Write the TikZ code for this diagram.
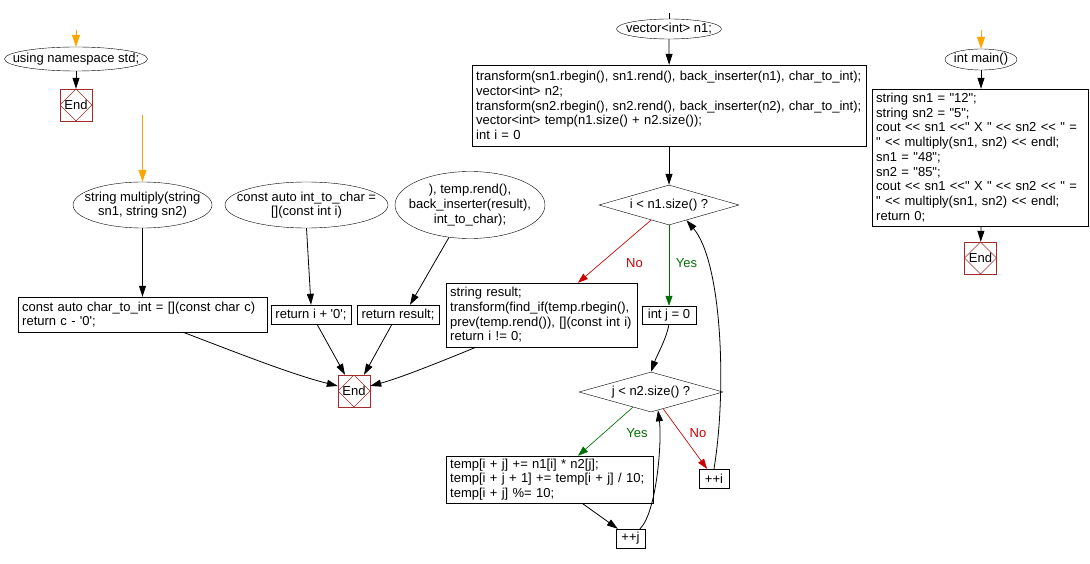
\documentclass[tikz,border=0pt]{standalone}
\usepackage{fontspec}
\newfontfamily\flowfont{Liberation Sans}
\usepackage{tikz}
\usetikzlibrary{arrows.meta,shapes.geometric}
\definecolor{endred}{RGB}{165,42,42}
\definecolor{startorange}{RGB}{255,165,0}
\definecolor{nored}{RGB}{204,0,0}
\definecolor{yesgreen}{RGB}{0,110,0}

\begin{document}
\begin{tikzpicture}[x=1pt, y=-1pt,
    every node/.style={font={\flowfont\fontsize{13}{14.7}\selectfont}},
    terminal/.style={ellipse, draw, align=center, inner sep=-80pt},
    process/.style={rectangle, draw, align=left, inner xsep=4pt, inner ysep=2pt},
    decision/.style={diamond, draw, aspect=3.5, inner sep=-40pt},
    endbox/.style={rectangle, draw=endred, minimum size=32pt, inner sep=0pt,
        path picture={\draw[endred, line width=0.4pt]
            (path picture bounding box.north) -- (path picture bounding box.east) --
            (path picture bounding box.south) -- (path picture bounding box.west) -- cycle;}},
    flow/.style={-{Triangle[length=11pt, width=7pt]}, line width=0.8pt},
    startflow/.style={-{Triangle[length=12pt, width=8pt]}, line width=0.8pt, draw=startorange, fill=startorange},
    noflow/.style={-{Triangle[length=10pt, width=7pt]}, line width=0.6pt, draw=nored, fill=nored},
    yesflow/.style={-{Triangle[length=10pt, width=7pt]}, line width=0.6pt, draw=yesgreen, fill=yesgreen},
    nolabel/.style={text=nored},
    yeslabel/.style={text=yesgreen}]
    \useasboundingbox (0,0) rectangle (1090,564);

    % using namespace std
    \coordinate (ns-in) at (76,30);
    \node[terminal, minimum width=143pt, minimum height=24pt] (ns) at (76,59) {using namespace std;};
    \node[endbox] (end1) at (76,105) {End};
    \draw[startflow] (ns-in) -- (ns);
    \draw[flow] (ns) -- (end1);

    % multiply
    \coordinate (mult-in) at (142.5,115);
    \node[terminal, minimum width=139pt, minimum height=46pt] (mult) at (142.5,205) {string multiply(string\\sn1, string sn2)};
    \node[process, anchor=west, text width=241pt, minimum height=35pt] (ctoi) at (18,314.5) {const auto char\_to\_int = [](const char c)\\return c - '0';};
    \node[terminal, minimum width=163pt, minimum height=46pt] (itoc) at (306.5,205) {const auto int\_to\_char =\\{}[](const int i)};
    \node[process, minimum width=80pt, minimum height=19pt] (reti) at (311,314.5) {return i + '0';};
    \node[terminal, minimum width=150pt, minimum height=67pt] (tail) at (470,205) {), temp.rend(),\\back\_inserter(result),\\int\_to\_char);};
    \node[process, minimum width=82pt, minimum height=19pt] (retr) at (398,314.5) {return result;};
    \node[endbox] (end2) at (354,391) {End};
    \draw[startflow] (mult-in) -- (mult);
    \draw[flow] (mult.south) -- (mult.south |- ctoi.north);
    \draw[flow] (itoc.south) -- (reti.north);
    \draw[flow] (tail.-123) -- ([xshift=12pt]retr.north);
    \draw[flow] ([xshift=165pt]ctoi.south west) .. controls (230,350) and (290,374) .. ([yshift=5pt]end2.west);
    \draw[flow] ([xshift=6pt]reti.south) -- ([xshift=-9pt]end2.north);
    \draw[flow] ([xshift=-6pt]retr.south) -- ([xshift=10pt]end2.north);

    % vector n1 and loops
    \coordinate (n1-in) at (669,13);
    \node[terminal, minimum width=105pt, minimum height=20pt] (n1) at (669,29) {vector<int> n1;};
    \node[process, anchor=west, text width=386pt, minimum height=81pt] (init) at (472,105.5) {transform(sn1.rbegin(), sn1.rend(), back\_inserter(n1), char\_to\_int);\\
        vector<int> n2;\\
        transform(sn2.rbegin(), sn2.rend(), back\_inserter(n2), char\_to\_int);\\
        vector<int> temp(n1.size() + n2.size());\\
        int i = 0};
    \node[decision, minimum width=140pt, minimum height=40pt] (iloop) at (669,205) {i < n1.size() ?};
    \node[process, anchor=west, text width=183pt, minimum height=64pt] (res) at (446,315) {string result;\\
        transform(find\_if(temp.rbegin(),\\
        prev(temp.rend()), [](const int i)\\
        return i != 0;};
    \node[process, minimum width=54pt, minimum height=18pt] (intj) at (669,315) {int j = 0};
    \node[decision, minimum width=144pt, minimum height=40pt] (jloop) at (651,392) {j < n2.size() ?};
    \node[process, anchor=west, text width=199pt, minimum height=47pt] (digit) at (446,479.5) {temp[i + j] += n1[i] * n2[j];\\
        temp[i + j + 1] += temp[i + j] / 10;\\
        temp[i + j] \%= 10;};
    \node[process, minimum width=30pt, minimum height=19pt] (inci) at (714,478.5) {++i};
    \node[process, minimum width=29pt, minimum height=19pt] (incj) at (630.5,538.5) {++j};
    \node[nolabel] (no1) at (634.5,263) {No};
    \node[yeslabel] (yes1) at (686.5,263) {Yes};
    \node[yeslabel] (yes2) at (637,433) {Yes};
    \node[nolabel] (no2) at (698,433) {No};
    \draw[line width=0.8pt] (n1-in) -- (n1);
    \draw[flow] (n1) -- (init);
    \draw[flow] (init.south -| iloop) -- (iloop);
    \draw[yesflow] (iloop) -- (intj);
    \draw[noflow] (iloop.220) -- ([xshift=132pt]res.north west);
    \draw[flow] (intj.south) .. controls (666,340) and (657,355) .. (jloop.north);
    \draw[yesflow] (jloop.220) -- ([xshift=132pt]digit.north west);
    \draw[noflow] (jloop.-54) -- ([xshift=-7pt]inci.north);
    \draw[flow] ([xshift=136pt]digit.south west) -- ([xshift=2pt]incj.north west);
    \draw[flow] ([xshift=9.5pt]incj.north) .. controls (657,512) and (662,440) .. (jloop.-69);
    \draw[flow] (inci.north) .. controls (727,390) and (722,262) .. (iloop.-41);
    \draw[flow] ([xshift=30pt]res.south west) .. controls (440,362) and (400,378) .. ([yshift=5pt]end2.east);

    % int main
    \coordinate (main-in) at (981,30);
    \node[terminal, minimum width=72pt, minimum height=21pt] (mainf) at (981,59.5) {int main()};
    \node[process, anchor=west, text width=208pt, minimum height=137pt] (mainb) at (872,157.5) {string sn1 = "12";\\
        string sn2 = "5";\\
        cout << sn1 <<" X " << sn2 << " =\\
        " << multiply(sn1, sn2) << endl;\\
        sn1 = "48";\\
        sn2 = "85";\\
        cout << sn1 <<" X " << sn2 << " =\\
        " << multiply(sn1, sn2) << endl;\\
        return 0;};
    \node[endbox] (end3) at (980.5,258) {End};
    \draw[startflow] (main-in) -- (mainf);
    \draw[flow] (mainf) -- (mainf.south |- mainb.north);
    \draw[flow] (mainf.south |- mainb.south) -- (end3);
\end{tikzpicture}
\end{document}
